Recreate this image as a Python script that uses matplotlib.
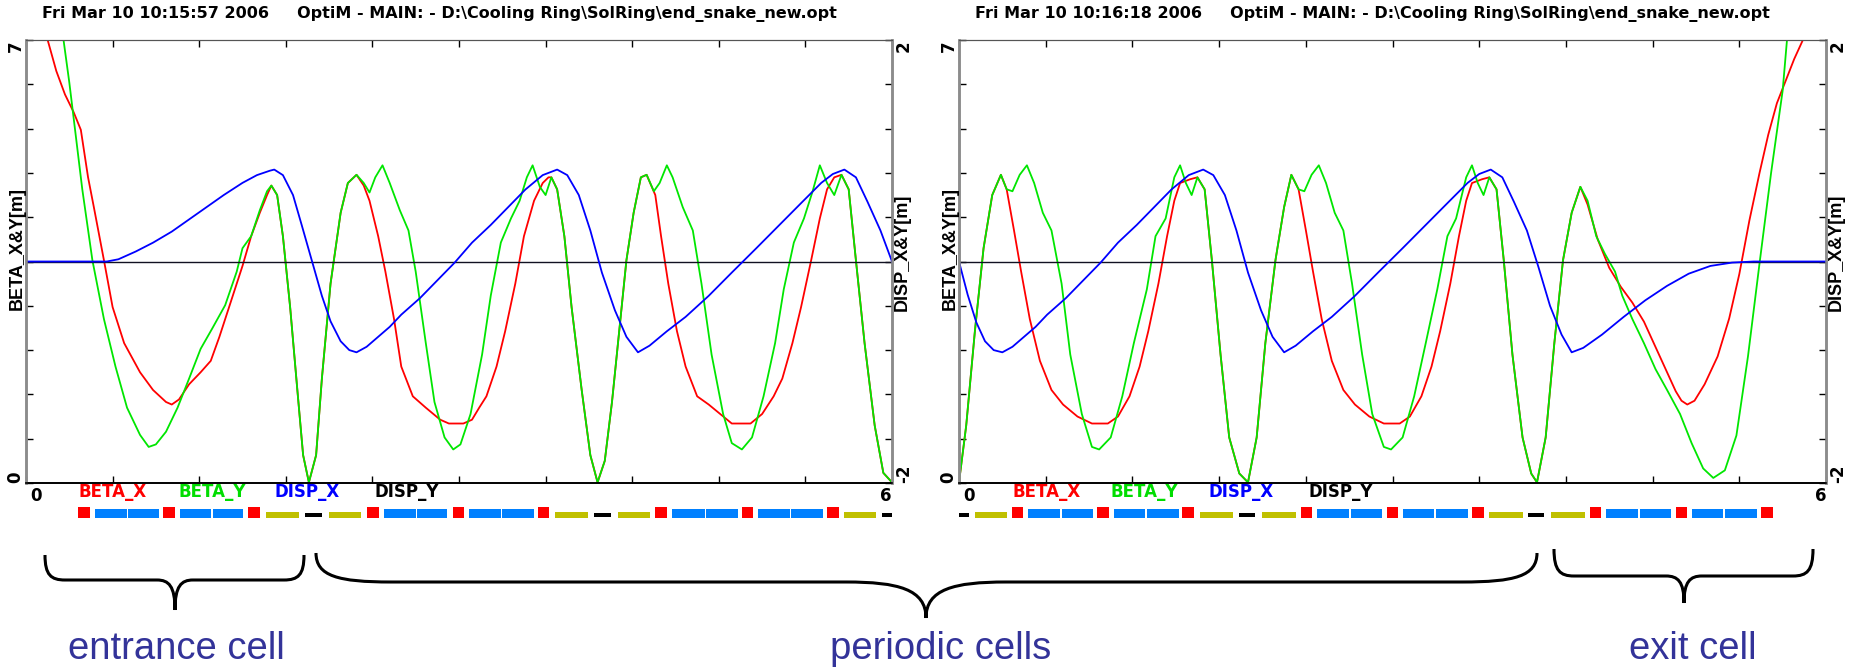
import matplotlib.pyplot as plt
from matplotlib.path import Path
from matplotlib.patches import PathPatch, Rectangle
from matplotlib.transforms import offset_copy

W, H = 1853, 668

# ---------------- data (s in m) ----------------
header_l = "Fri Mar 10 10:15:57 2006     OptiM - MAIN: - D:\\Cooling Ring\\SolRing\\end_snake_new.opt"
header_r = "Fri Mar 10 10:16:18 2006     OptiM - MAIN: - D:\\Cooling Ring\\SolRing\\end_snake_new.opt"
legend_names = ["BETA_X", "BETA_Y", "DISP_X", "DISP_Y"]
cell_names = ["entrance cell", "periodic cells", "exit cell"]

# left plot
bx_l = [(0, 7.0), (0.15, 7.0), (0.21, 6.51), (0.27, 6.14), (0.33, 5.86), (0.38, 5.58), (0.43, 4.83), (0.47, 4.36),
        (0.54, 3.52), (0.60, 2.78), (0.68, 2.21), (0.79, 1.75), (0.88, 1.47), (0.97, 1.28), (1.01, 1.24), (1.06, 1.32),
        (1.13, 1.56), (1.21, 1.75), (1.28, 1.93), (1.34, 2.31), (1.42, 2.87), (1.50, 3.43), (1.56, 3.90), (1.62, 4.27),
        (1.67, 4.55), (1.70, 4.70), (1.74, 4.55), (1.78, 3.90), (1.83, 2.78), (1.88, 1.47), (1.92, 0.44), (1.96, 0.01),
        (2.01, 0.44), (2.05, 1.65), (2.11, 3.15), (2.18, 4.27), (2.23, 4.74), (2.29, 4.87), (2.34, 4.70), (2.38, 4.46),
        (2.44, 3.90), (2.49, 3.34), (2.55, 2.59), (2.60, 1.84), (2.68, 1.37), (2.77, 1.19), (2.87, 1.00), (2.93, 0.94),
        (3.03, 0.94), (3.09, 1.00), (3.14, 1.19), (3.19, 1.37), (3.26, 1.84), (3.32, 2.40), (3.39, 3.15), (3.45, 3.90),
        (3.52, 4.46), (3.58, 4.74), (3.62, 4.83), (3.64, 4.83), (3.68, 4.64), (3.73, 3.90), (3.78, 2.78), (3.85, 1.47),
        (3.91, 0.44), (3.96, 0.01), (4.01, 0.35), (4.06, 1.28), (4.11, 2.40), (4.16, 3.52), (4.21, 4.27), (4.26, 4.83),
        (4.30, 4.87), (4.36, 4.55), (4.40, 3.90), (4.45, 3.15), (4.51, 2.40), (4.57, 1.84), (4.65, 1.37), (4.73, 1.24),
        (4.81, 1.09), (4.89, 0.94), (5.02, 0.94), (5.10, 1.09), (5.18, 1.37), (5.24, 1.65), (5.31, 2.21), (5.37, 2.78),
        (5.44, 3.52), (5.50, 4.18), (5.55, 4.64), (5.60, 4.83), (5.65, 4.87), (5.70, 4.64), (5.75, 3.52), (5.81, 2.21),
        (5.88, 0.91), (5.94, 0.16), (6.0, 0.01)]
by_l = [(0, 7.0), (0.26, 7.0), (0.30, 6.33), (0.34, 5.58), (0.39, 4.64), (0.46, 3.52), (0.54, 2.59), (0.62, 1.84),
        (0.70, 1.19), (0.79, 0.76), (0.85, 0.57), (0.90, 0.61), (0.97, 0.81), (1.05, 1.19), (1.13, 1.65), (1.21, 2.12),
        (1.29, 2.44), (1.38, 2.81), (1.46, 3.34), (1.50, 3.71), (1.56, 3.90), (1.62, 4.31), (1.67, 4.61), (1.70, 4.70),
        (1.74, 4.55), (1.78, 3.90), (1.83, 2.78), (1.88, 1.47), (1.92, 0.44), (1.96, 0.01), (2.01, 0.44), (2.05, 1.65),
        (2.11, 3.15), (2.18, 4.27), (2.23, 4.74), (2.29, 4.87), (2.34, 4.74), (2.38, 4.59), (2.42, 4.83), (2.47, 5.02),
        (2.52, 4.74), (2.59, 4.31), (2.65, 3.99), (2.70, 3.34), (2.77, 2.21), (2.83, 1.28), (2.90, 0.72), (2.96, 0.53),
        (3.01, 0.61), (3.08, 1.09), (3.16, 2.03), (3.22, 2.96), (3.29, 3.80), (3.36, 4.18), (3.42, 4.46), (3.47, 4.83),
        (3.51, 5.02), (3.56, 4.68), (3.60, 4.55), (3.64, 4.83), (3.68, 4.64), (3.73, 3.90), (3.78, 2.78), (3.85, 1.47),
        (3.91, 0.44), (3.96, 0.01), (4.01, 0.35), (4.06, 1.28), (4.11, 2.40), (4.16, 3.52), (4.21, 4.27), (4.26, 4.83),
        (4.30, 4.87), (4.35, 4.61), (4.39, 4.74), (4.44, 5.02), (4.48, 4.83), (4.55, 4.36), (4.62, 3.99), (4.68, 3.15),
        (4.75, 2.03), (4.83, 1.09), (4.89, 0.63), (4.96, 0.53), (5.03, 0.72), (5.11, 1.37), (5.19, 2.21), (5.25, 3.06),
        (5.32, 3.80), (5.39, 4.18), (5.45, 4.61), (5.50, 5.02), (5.55, 4.74), (5.60, 4.55), (5.65, 4.87), (5.70, 4.64),
        (5.75, 3.52), (5.81, 2.21), (5.88, 0.91), (5.94, 0.16), (6.0, 0.01)]
dx_l = [(0, 0.0), (0.56, 0.0), (0.64, 0.02), (0.76, 0.09), (0.88, 0.17), (1.01, 0.27), (1.13, 0.38), (1.25, 0.49),
        (1.37, 0.60), (1.50, 0.71), (1.60, 0.78), (1.69, 0.82), (1.72, 0.83), (1.78, 0.78), (1.85, 0.60), (1.91, 0.33),
        (1.98, 0.01), (2.05, -0.31), (2.11, -0.54), (2.18, -0.72), (2.24, -0.80), (2.29, -0.82), (2.36, -0.77),
        (2.44, -0.68), (2.52, -0.59), (2.60, -0.48), (2.73, -0.33), (2.85, -0.17), (2.97, -0.01), (3.09, 0.17),
        (3.22, 0.33), (3.34, 0.49), (3.46, 0.65), (3.58, 0.78), (3.68, 0.83), (3.75, 0.78), (3.83, 0.60), (3.91, 0.28),
        (3.99, -0.10), (4.08, -0.44), (4.16, -0.68), (4.24, -0.82), (4.32, -0.76), (4.44, -0.63), (4.57, -0.50),
        (4.73, -0.31), (4.89, -0.10), (5.06, 0.12), (5.22, 0.33), (5.38, 0.54), (5.51, 0.71), (5.59, 0.79),
        (5.67, 0.83), (5.75, 0.76), (5.83, 0.54), (5.92, 0.28), (6.0, 0.0)]

# right plot
bx_r = [(0, 0.01), (0.05, 0.91), (0.11, 2.40), (0.17, 3.71), (0.23, 4.55), (0.29, 4.87), (0.33, 4.64), (0.38, 4.00),
        (0.43, 3.34), (0.49, 2.59), (0.56, 1.93), (0.64, 1.47), (0.72, 1.24), (0.82, 1.05), (0.92, 0.94), (1.03, 0.94),
        (1.10, 1.05), (1.18, 1.37), (1.25, 1.84), (1.31, 2.40), (1.38, 3.15), (1.44, 3.90), (1.49, 4.46), (1.53, 4.74),
        (1.60, 4.80), (1.65, 4.83), (1.70, 4.64), (1.75, 3.52), (1.81, 2.03), (1.87, 0.72), (1.94, 0.15), (2.0, 0.01),
        (2.06, 0.72), (2.12, 2.21), (2.19, 3.52), (2.25, 4.36), (2.30, 4.87), (2.35, 4.64), (2.40, 4.00), (2.45, 3.34),
        (2.51, 2.59), (2.58, 1.93), (2.66, 1.47), (2.74, 1.24), (2.84, 1.05), (2.94, 0.94), (3.05, 0.94), (3.12, 1.05),
        (3.20, 1.37), (3.27, 1.84), (3.33, 2.40), (3.40, 3.15), (3.46, 3.90), (3.51, 4.46), (3.55, 4.74), (3.62, 4.80),
        (3.67, 4.83), (3.72, 4.64), (3.77, 3.52), (3.83, 2.03), (3.90, 0.72), (3.96, 0.15), (4.0, 0.01), (4.06, 0.72),
        (4.12, 2.21), (4.18, 3.52), (4.24, 4.27), (4.30, 4.68), (4.35, 4.40), (4.42, 3.85), (4.50, 3.40), (4.58, 3.10),
        (4.66, 2.85), (4.74, 2.55), (4.82, 2.15), (4.90, 1.75), (4.96, 1.45), (5.00, 1.30), (5.04, 1.24), (5.09, 1.30),
        (5.16, 1.56), (5.25, 2.00), (5.33, 2.60), (5.40, 3.30), (5.47, 4.15), (5.54, 4.90), (5.60, 5.50), (5.66, 6.00),
        (5.72, 6.35), (5.78, 6.70), (5.84, 7.0), (6.0, 7.0)]
by_r = [(0, 0.01), (0.05, 0.91), (0.11, 2.40), (0.17, 3.71), (0.23, 4.55), (0.29, 4.87), (0.33, 4.64), (0.37, 4.61),
        (0.42, 4.87), (0.47, 5.02), (0.52, 4.74), (0.58, 4.27), (0.64, 3.99), (0.71, 3.15), (0.77, 2.03), (0.85, 1.09),
        (0.92, 0.57), (0.97, 0.53), (1.05, 0.72), (1.13, 1.37), (1.21, 2.21), (1.30, 3.06), (1.36, 3.90), (1.43, 4.18),
        (1.49, 4.83), (1.53, 5.02), (1.57, 4.74), (1.61, 4.55), (1.65, 4.83), (1.70, 4.64), (1.75, 3.52), (1.81, 2.03),
        (1.87, 0.72), (1.94, 0.15), (2.0, 0.01), (2.06, 0.72), (2.12, 2.21), (2.19, 3.52), (2.25, 4.36), (2.30, 4.87),
        (2.35, 4.64), (2.39, 4.61), (2.44, 4.87), (2.49, 5.02), (2.54, 4.74), (2.60, 4.27), (2.66, 3.99), (2.72, 3.15),
        (2.79, 2.03), (2.86, 1.09), (2.94, 0.57), (2.99, 0.53), (3.07, 0.72), (3.15, 1.37), (3.23, 2.21), (3.31, 3.06),
        (3.38, 3.90), (3.44, 4.18), (3.51, 4.83), (3.55, 5.02), (3.59, 4.74), (3.63, 4.55), (3.67, 4.83), (3.72, 4.64),
        (3.77, 3.52), (3.83, 2.03), (3.90, 0.72), (3.96, 0.15), (4.0, 0.01), (4.06, 0.72), (4.12, 2.21), (4.18, 3.52),
        (4.24, 4.27), (4.30, 4.68), (4.35, 4.46), (4.41, 3.90), (4.47, 3.62), (4.54, 3.34), (4.59, 2.96), (4.66, 2.59),
        (4.74, 2.21), (4.82, 1.80), (4.90, 1.47), (4.99, 1.09), (5.07, 0.63), (5.15, 0.23), (5.22, 0.08), (5.30, 0.20),
        (5.38, 0.75), (5.46, 2.00), (5.54, 3.47), (5.62, 4.90), (5.70, 6.20), (5.73, 7.0), (6.0, 7.0)]
dx_r = [(0, 0.0), (0.06, -0.30), (0.12, -0.55), (0.18, -0.72), (0.24, -0.80), (0.30, -0.82), (0.37, -0.77),
        (0.45, -0.68), (0.53, -0.59), (0.61, -0.48), (0.74, -0.33), (0.86, -0.17), (0.98, -0.01), (1.10, 0.17),
        (1.23, 0.33), (1.35, 0.49), (1.47, 0.65), (1.59, 0.78), (1.69, 0.83), (1.76, 0.78), (1.84, 0.60), (1.92, 0.28),
        (2.00, -0.10), (2.09, -0.44), (2.17, -0.68), (2.25, -0.82), (2.33, -0.76), (2.45, -0.63), (2.58, -0.50),
        (2.74, -0.31), (2.90, -0.10), (3.07, 0.12), (3.23, 0.33), (3.39, 0.54), (3.52, 0.71), (3.60, 0.79),
        (3.68, 0.83), (3.76, 0.76), (3.84, 0.54), (3.93, 0.28), (4.01, -0.05), (4.09, -0.40), (4.17, -0.66),
        (4.24, -0.82), (4.32, -0.78), (4.45, -0.66), (4.60, -0.50), (4.75, -0.35), (4.90, -0.22), (5.05, -0.11),
        (5.20, -0.04), (5.35, -0.01), (5.50, 0.0), (6.0, 0.0)]
dy = [(0, 0.0), (6.0, 0.0)]

# lattice: (kind, s_start, s_end)
lat_l = [("Q", 0.36, 0.44), ("B", 0.475, 0.70), ("B", 0.705, 0.92), ("Q", 0.95, 1.03), ("B", 1.065, 1.285),
         ("B", 1.295, 1.505), ("Q", 1.54, 1.62), ("S", 1.66, 1.89), ("K", 1.93, 2.05), ("S", 2.10, 2.32),
         ("Q", 2.365, 2.445), ("B", 2.48, 2.70), ("B", 2.71, 2.92), ("Q", 2.955, 3.035), ("B", 3.07, 3.29),
         ("B", 3.30, 3.52), ("Q", 3.545, 3.625), ("S", 3.665, 3.895), ("K", 3.935, 4.05), ("S", 4.10, 4.32),
         ("Q", 4.36, 4.44), ("B", 4.475, 4.705), ("B", 4.71, 4.93), ("Q", 4.96, 5.04), ("B", 5.07, 5.29),
         ("B", 5.30, 5.52), ("Q", 5.55, 5.63), ("S", 5.67, 5.89), ("K", 5.93, 6.0)]
lat_r = [("K", 0.0, 0.07), ("S", 0.11, 0.33), ("Q", 0.365, 0.445), ("B", 0.48, 0.70), ("B", 0.71, 0.93),
         ("Q", 0.955, 1.035), ("B", 1.07, 1.29), ("B", 1.30, 1.52), ("Q", 1.545, 1.625), ("S", 1.665, 1.895),
         ("K", 1.935, 2.05), ("S", 2.10, 2.33), ("Q", 2.365, 2.445), ("B", 2.48, 2.70), ("B", 2.71, 2.93),
         ("Q", 2.96, 3.04), ("B", 3.07, 3.29), ("B", 3.30, 3.52), ("Q", 3.55, 3.63), ("S", 3.67, 3.90),
         ("K", 3.935, 4.05), ("S", 4.10, 4.33), ("Q", 4.365, 4.445), ("B", 4.48, 4.70), ("B", 4.71, 4.93),
         ("Q", 4.96, 5.04), ("B", 5.07, 5.29), ("B", 5.30, 5.52), ("Q", 5.55, 5.63)]

# ---------------- styles ----------------
RED, GREEN, BLUE = "#ff0000", "#00e600", "#0000ff"
lat_style = {"Q": ("#ff0000", 2, 11), "B": ("#0080ff", 2, 9), "S": ("#c0c000", 2.5, 6), "K": ("#000000", 3.5, 4)}
plt.rcParams["font.family"] = ["Liberation Sans", "DejaVu Sans"]
WIDE = ["DejaVu Sans"]

fig = plt.figure(figsize=(W / 100, H / 100), dpi=100)


def px_axes(x0, y0, x1, y1, **kw):
    return fig.add_axes([x0 / W, 1 - y1 / H, (x1 - x0) / W, (y1 - y0) / H], **kw)


def xs(pts):
    return [p[0] for p in pts]


def ys(pts):
    return [p[1] for p in pts]


def panel(x0, x1, bx, by, dx, lat, header):
    ax = px_axes(x0, 40, x1, 483)
    ax.set_xlim(0, 6)
    ax.set_ylim(0, 7)
    ax.plot(xs(bx), ys(bx), color=RED, lw=1.3)
    ax.plot(xs(by), ys(by), color=GREEN, lw=1.3)
    ax2 = ax.twinx()
    ax2.set_ylim(-2, 2)
    ax2.plot(xs(dy), ys(dy), color="#111122", lw=1.0)
    ax2.plot(xs(dx), ys(dx), color=BLUE, lw=1.3)

    ax.set_xticks([i * 0.6 for i in range(11)])
    ax.set_xticklabels([])
    ax.tick_params(axis="x", direction="in", top=True, bottom=True, length=5, width=1)
    tb = ax.get_xaxis_transform()
    ax.text(0, 0, "0", transform=offset_copy(tb, fig=fig, x=4, y=-4, units="dots"), ha="left", va="top",
            fontsize=12, fontweight="bold", family=WIDE)
    ax.text(6, 0, "6", transform=offset_copy(tb, fig=fig, x=0, y=-4, units="dots"), ha="right", va="top",
            fontsize=12, fontweight="bold", family=WIDE)

    ax.set_yticks([i * 0.7 for i in range(11)])
    ax.set_yticklabels(["0"] + [""] * 9 + ["7"], fontweight="bold", fontsize=12, rotation=90, family=WIDE)
    lab = ax.get_yticklabels()
    lab[0].set_va("bottom")
    lab[-1].set_va("top")
    ax.tick_params(axis="y", direction="in", length=5, width=1, pad=1)

    ax2.set_yticks([-2 + i * 0.4 for i in range(11)])
    ax2.set_yticklabels(["-2"] + [""] * 9 + ["2"], fontweight="bold", fontsize=12, rotation=90, family=WIDE)
    lab = ax2.get_yticklabels()
    lab[0].set_va("bottom")
    lab[-1].set_va("top")
    ax2.tick_params(axis="y", direction="in", length=5, width=1, pad=2)

    for a in (ax, ax2):
        a.spines["left"].set_color("#8c8c8c")
        a.spines["right"].set_color("#8c8c8c")
        a.spines["left"].set_linewidth(1.8)
        a.spines["right"].set_linewidth(1.8)
        a.spines["top"].set_color("#555555")
        a.spines["bottom"].set_color("#000000")
        a.spines["bottom"].set_linewidth(1.2)

    fig.text((x0 - 8.5) / W, 1 - 248 / H, "BETA_X&Y[m]", rotation=90, ha="center", va="center",
             fontsize=13, fontweight="bold")
    fig.text((x1 + 10.5) / W, 1 - 252 / H, "DISP_X&Y[m]", rotation=90, ha="center", va="center",
             fontsize=13, fontweight="bold")
    fig.text((x0 + 16) / W, 1 - 14 / H, header, ha="left", va="center", fontsize=11.5, fontweight="bold",
             family=WIDE)

    for name, off, c in zip(legend_names, [53, 152, 249, 349], [RED, "#00dd00", BLUE, "#000000"]):
        fig.text((x0 + off) / W, 1 - 492 / H, name, ha="left", va="center", fontsize=12,
                 fontweight="bold", color=c, family=WIDE)

    la = px_axes(x0, 505, x1, 520)
    la.set_xlim(0, 6)
    la.set_ylim(0, 15)
    la.axis("off")
    for kind, s0, s1 in lat:
        col, y0, h = lat_style[kind]
        la.add_patch(Rectangle((s0, y0), s1 - s0, h, facecolor=col, edgecolor="none"))


panel(26, 892, bx_l, by_l, dx_l, lat_l, header_l)
panel(959, 1826, bx_r, by_r, dx_r, lat_r, header_r)

# braces and cell labels (figure pixel overlay)
ov = fig.add_axes([0, 0, 1, 1])
ov.set_xlim(0, W)
ov.set_ylim(H, 0)
ov.axis("off")


def brace(x0, x1, ytop, ymid, ytip, xtip, r, r2):
    verts = [(x0, ytop), (x0, ytop + 0.8 * (ymid - ytop)), (x0 + 0.3 * r, ymid), (x0 + r, ymid),
             (xtip - r2, ymid),
             (xtip - 0.35 * r2, ymid), (xtip, ymid + 0.2 * (ytip - ymid)), (xtip, ytip),
             (xtip, ymid + 0.2 * (ytip - ymid)), (xtip + 0.35 * r2, ymid), (xtip + r2, ymid),
             (x1 - r, ymid),
             (x1 - 0.3 * r, ymid), (x1, ytop + 0.8 * (ymid - ytop)), (x1, ytop)]
    codes = [Path.MOVETO, Path.CURVE4, Path.CURVE4, Path.CURVE4, Path.LINETO,
             Path.CURVE4, Path.CURVE4, Path.CURVE4, Path.CURVE4, Path.CURVE4, Path.CURVE4,
             Path.LINETO, Path.CURVE4, Path.CURVE4, Path.CURVE4]
    ov.add_patch(PathPatch(Path(verts, codes), facecolor="none", edgecolor="black", lw=2.2))


brace(45, 304, 555, 580, 610, 175, 20, 18)
brace(316, 1537, 553, 582, 618, 926, 75, 80)
brace(1554, 1813, 549, 576, 603, 1684, 20, 18)

for name, xc in zip(cell_names, [176, 941, 1693]):
    ov.text(xc, 659, name, ha="center", va="baseline", fontsize=27.5, color="#333399")

fig.savefig("out.png", dpi=100)
